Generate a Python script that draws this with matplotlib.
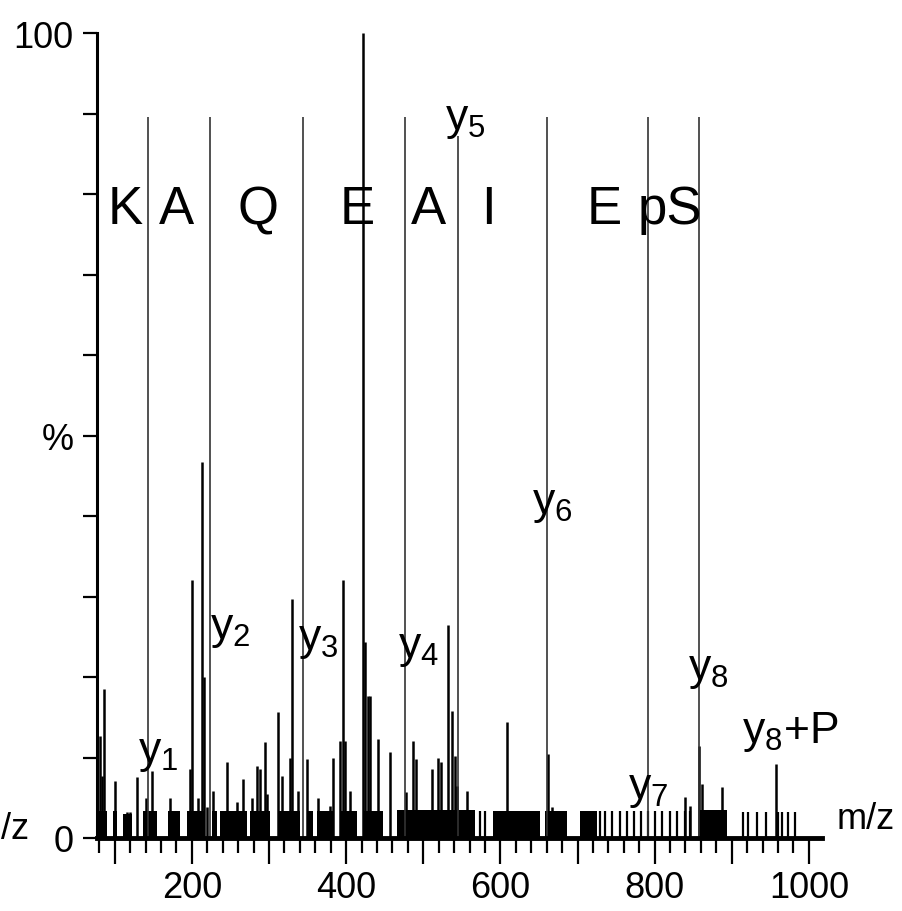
import matplotlib
matplotlib.use('Agg')
import matplotlib.pyplot as plt

plt.rcParams['font.family'] = ['Liberation Sans Narrow', 'Liberation Sans', 'DejaVu Sans']
plt.rcParams['mathtext.default'] = 'regular'

# peaks (m/z, relative intensity %)
peak_mz = [80.8, 83.3, 85.9, 100.2, 115.7, 119.6, 128.7, 140.4, 148.2, 152.0,
           171.5, 197.4, 200.0, 207.8, 213.0, 215.5, 219.4, 227.2, 245.4, 258.3,
           266.1, 277.8, 284.2, 288.1, 294.6, 297.2, 311.5, 316.6, 327.0, 329.6,
           337.4, 349.1, 363.3, 379.0, 382.8, 391.9, 395.7, 398.3, 404.8, 421.7,
           424.2, 428.1, 430.7, 441.1, 456.6, 477.5, 486.5, 490.5, 511.0, 519.0,
           523.0, 532.0, 537.0, 541.0, 543.5, 556.4, 608.3, 661.5, 666.6, 839.0,
           845.5, 857.2, 861.0, 887.0, 957.0]
peak_int = [12.7, 7.7, 18.5, 7.1, 3.2, 3.2, 7.6, 5.0, 8.3, 3.0,
            5.0, 8.6, 32.0, 5.0, 46.7, 20.0, 3.9, 5.8, 9.4, 4.5,
            7.3, 5.0, 9.0, 8.6, 11.9, 5.5, 15.6, 7.7, 10.0, 29.7,
            5.8, 9.8, 5.0, 4.0, 10.0, 12.0, 32.0, 12.0, 5.8, 100.0,
            24.3, 17.6, 17.6, 12.3, 10.7, 5.7, 12.0, 9.8, 8.6, 10.0,
            9.4, 26.5, 15.8, 10.2, 6.5, 5.8, 14.4, 10.4, 3.9, 5.1,
            4.0, 11.4, 6.7, 6.3, 9.2]

# dense baseline noise (m/z ranges) and isolated noise sticks
band_start = [77, 97.6, 110.6, 136.5, 168.9, 193.5, 225.9, 236.3, 275.2, 311.5,
              349.1, 362, 391.8, 421.7, 465.7, 590.2, 657.5, 703, 858.5]
band_end = [90, 102.9, 122.2, 154.6, 184.4, 216.8, 232.4, 271.3, 301.1, 340,
            356.9, 383, 413.9, 447.6, 566.8, 651.1, 686.1, 725, 893.5]
band_int = [3.4, 3.3, 3.0, 3.3, 3.3, 3.4, 3.3, 3.4, 3.4, 3.4,
            3.3, 3.4, 3.4, 3.4, 3.5, 3.4, 3.4, 3.3, 3.5]
noise_mz = [573.4, 579.9, 728.8, 735.3, 744.4, 754.8, 763.9, 773.0, 782.0, 791.0,
            800.1, 809.2, 819.6, 828.7, 839.1, 845.5, 914.2, 920.7, 932.4, 944.0,
            959.6, 964.8, 972.6, 981.6]
noise_int = [3.4, 3.4, 3.3, 3.3, 3.4, 3.3, 3.4, 3.3, 3.3, 3.4,
             3.3, 3.4, 3.3, 3.4, 3.3, 3.4, 3.2, 3.2, 3.2, 3.2,
             3.2, 3.2, 3.2, 3.2]

# y-ion marker lines and labels
ion_mz = [143.0, 223.3, 343.9, 476.2, 544.9, 660.5, 791.3, 857.2]
ion_top = [89.6, 89.6, 89.6, 89.6, 87.2, 89.6, 89.6, 89.6]
ion_labels = ['y$_1$', 'y$_2$', 'y$_3$', 'y$_4$', 'y$_5$', 'y$_6$', 'y$_7$', 'y$_8$', 'y$_8$+P']
ion_label_x = [130.0, 223.3, 337.4, 467.0, 527.9, 640.7, 765.1, 842.9, 912.9]
ion_label_y = [10.6, 26.0, 24.7, 23.7, 89.3, 41.5, 6.2, 20.9, 13.3]

# peptide sequence between the ion lines
seq = ['K', 'A', 'Q', 'E', 'A', 'I', 'E', 'pS']
seq_x = [113.2, 180.5, 285.5, 413.9, 507.2, 585.0, 735.3, 819.5]
seq_y = 78.1

fig = plt.figure(figsize=(9.02, 9.12), dpi=100)
ax = fig.add_axes([97 / 902, 1 - 839 / 912, (822 - 97) / 902, (839 - 34) / 912])

ax.bar(band_start, band_int, width=[e - s for s, e in zip(band_start, band_end)],
       align='edge', color='black', linewidth=0)
ax.vlines(noise_mz, 0, noise_int, color='black', linewidth=1.6)
ax.vlines(peak_mz, 0, peak_int, color='black', linewidth=1.8)
ax.vlines(ion_mz, 0, ion_top, color='#333333', linewidth=1.2)

for lab, x, y in zip(ion_labels, ion_label_x, ion_label_y):
    ax.text(x, y, lab, fontsize=32, ha='left', va='center')
for s, x in zip(seq, seq_x):
    ax.text(x, seq_y, s, fontsize=38, ha='center', va='center')

ax.text(1036, 2.4, 'm/z', fontsize=26, ha='left', va='center', clip_on=False)
# only the tail of a second "m/z" shows at the left edge
fig.text(1 / 902, 1 - 830 / 912, '/z', fontsize=26, ha='left', va='center')

ax.set_xlim(77, 1017)
ax.set_ylim(0, 100)

ax.spines['top'].set_visible(False)
ax.spines['right'].set_visible(False)
ax.spines['left'].set_linewidth(2.2)
ax.spines['bottom'].set_linewidth(3.5)

major = list(range(100, 1001, 100))
ax.set_xticks(major, labels=[str(m) if m % 200 == 0 else '' for m in major])
ax.set_xticks([m for m in range(80, 1001, 20) if m % 100], minor=True)
ax.tick_params(axis='x', which='major', direction='out', length=19, width=1.6,
               labelsize=26, pad=4)
ax.tick_params(axis='x', which='minor', direction='out', length=10.5, width=1.6)

yt = list(range(0, 101, 10))
ax.set_yticks(yt, labels=['0', '', '', '', '', '%', '', '', '', '', '100'])
ax.tick_params(axis='y', direction='out', length=10, width=1.6, labelsize=26, pad=7)

fig.savefig('out.png', dpi=100)
